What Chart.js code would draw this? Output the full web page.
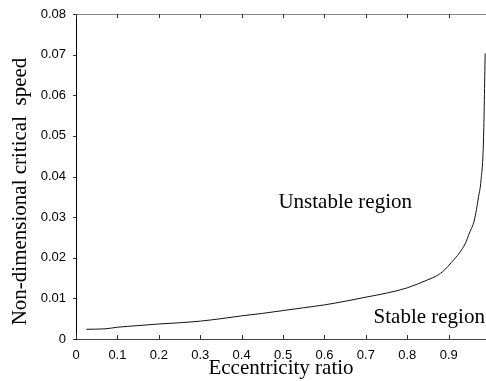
<!DOCTYPE html>
<html>
<head>
<meta charset="utf-8">
<script src="https://cdn.jsdelivr.net/npm/chart.js@4"></script>
<style>
html,body{margin:0;padding:0;background:#fff;}
#wrap{width:486px;height:381px;position:relative;}
</style>
</head>
<body>
<div id="wrap"><canvas id="c" width="486" height="381"></canvas></div>
<script>
const eccentricity = [0.025, 0.07, 0.1, 0.15, 0.2, 0.25, 0.3, 0.35, 0.4, 0.45, 0.5, 0.55, 0.6, 0.65, 0.7, 0.75, 0.8, 0.85, 0.87, 0.89, 0.906, 0.926, 0.94, 0.95, 0.962, 0.972, 0.978, 0.984, 0.988];
const criticalSpeed = [0.0024, 0.0025, 0.0029, 0.0033, 0.0037, 0.0040, 0.0044, 0.0050, 0.0057, 0.0063, 0.0070, 0.0077, 0.0084, 0.0093, 0.0103, 0.0113, 0.0126, 0.0146, 0.0155, 0.0170, 0.0188, 0.0212, 0.0235, 0.0261, 0.0293, 0.0350, 0.0391, 0.0490, 0.0703];
const xTicks = [0, 0.1, 0.2, 0.3, 0.4, 0.5, 0.6, 0.7, 0.8, 0.9];
const yTicks = [0, 0.01, 0.02, 0.03, 0.04, 0.05, 0.06, 0.07, 0.08];
const regionLabels = ["Unstable region", "Stable region"];
const regionX = [0.65, 0.853];
const regionY = [0.0336, 0.0052];
const yTitle = "Non-dimensional critical  speed";

const points = eccentricity.map((x, i) => ({x: x, y: criticalSpeed[i]}));

const serif = '"Liberation Serif", "Times New Roman", serif';
const sans = '"Liberation Sans", Arial, sans-serif';

const framePlugin = {
  id: 'frame',
  afterDatasetsDraw(chart) {
    const ctx = chart.ctx;
    const xs = chart.scales.x, ys = chart.scales.y;
    const a = chart.chartArea;
    ctx.save();
    ctx.strokeStyle = '#888';
    ctx.lineWidth = 1;
    ctx.beginPath();
    ctx.moveTo(a.left, a.top + 0.5);
    ctx.lineTo(a.right, a.top + 0.5);
    ctx.stroke();
    ctx.strokeStyle = '#444';
    ctx.beginPath();
    ctx.moveTo(a.left, a.bottom + 0.5);
    ctx.lineTo(a.right, a.bottom + 0.5);
    ctx.stroke();
    ctx.strokeStyle = '#000';
    ctx.beginPath();
    ctx.moveTo(a.left + 0.5, a.top);
    ctx.lineTo(a.left + 0.5, a.bottom + 1);
    ctx.stroke();
    ctx.strokeStyle = '#333';
    xTicks.forEach(v => {
      const px = Math.round(xs.getPixelForValue(v)) + 0.5;
      ctx.beginPath();
      ctx.moveTo(px, a.bottom);
      ctx.lineTo(px, a.bottom - 4);
      ctx.moveTo(px, a.top);
      ctx.lineTo(px, a.top + 4);
      ctx.stroke();
    });
    yTicks.forEach(v => {
      const py = Math.round(ys.getPixelForValue(v)) + 0.5;
      ctx.beginPath();
      ctx.moveTo(a.left - 3, py);
      ctx.lineTo(a.left, py);
      ctx.stroke();
    });
    ctx.fillStyle = '#000';
    ctx.font = '21px ' + serif;
    ctx.textAlign = 'center';
    ctx.textBaseline = 'middle';
    regionLabels.forEach((t, i) => {
      ctx.fillText(t, xs.getPixelForValue(regionX[i]), ys.getPixelForValue(regionY[i]));
    });
    // y axis title
    ctx.translate(20, (a.top + a.bottom) / 2 + 15);
    ctx.rotate(-Math.PI / 2);
    ctx.fillText(yTitle, 0, 0);
    ctx.restore();
  }
};

new Chart(document.getElementById('c'), {
  type: 'scatter',
  data: {
    datasets: [{
      data: points,
      showLine: true,
      borderColor: '#111',
      borderWidth: 1,
      pointRadius: 0,
      cubicInterpolationMode: 'monotone',
      fill: false
    }]
  },
  options: {
    responsive: false,
    animation: false,
    devicePixelRatio: 1,
    layout: {padding: {top: 14, right: 0, left: 0, bottom: 0}},
    plugins: {legend: {display: false}, tooltip: {enabled: false}},
    scales: {
      x: {
        type: 'linear',
        min: 0,
        max: 0.99,
        afterBuildTicks(scale) { scale.ticks = xTicks.map(v => ({value: v})); },
        afterFit(scale) { scale.height = 42; },
        border: {display: false},
        grid: {display: false},
        ticks: {
          color: '#000',
          font: {family: sans, size: 13},
          padding: 1,
          maxRotation: 0,
          callback: v => String(v)
        },
        title: {
          display: true,
          text: 'Eccentricity ratio',
          color: '#000',
          font: {family: serif, size: 21},
          padding: {top: 0, bottom: 0}
        }
      },
      y: {
        type: 'linear',
        min: 0,
        max: 0.08,
        afterBuildTicks(scale) { scale.ticks = yTicks.map(v => ({value: v})); },
        afterFit(scale) { scale.width = 76; },
        border: {display: false},
        grid: {display: false},
        ticks: {
          color: '#000',
          font: {family: sans, size: 13},
          padding: 2,
          callback: v => String(v)
        },
        title: {display: false}
      }
    }
  },
  plugins: [framePlugin]
});
</script>
</body>
</html>
